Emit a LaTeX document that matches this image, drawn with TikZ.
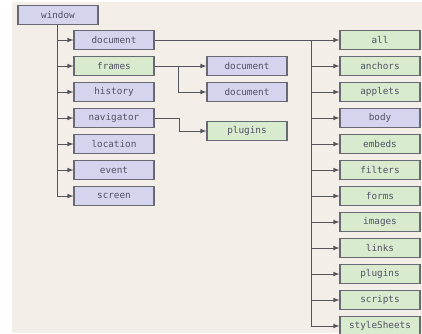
\documentclass[tikz,border=0pt]{standalone}
\usepackage{fontspec}
\setmonofont{DejaVu Sans Mono}
\usepackage{tikz}
\usetikzlibrary{calc}

\definecolor{paper}{RGB}{243,238,231}
\definecolor{lilac}{RGB}{212,212,238}
\definecolor{mint}{RGB}{216,235,206}
\definecolor{edge}{RGB}{105,105,115}
\definecolor{ink}{RGB}{80,80,100}

\tikzset{
	box/.style={draw=edge,line width=0.8pt,minimum width=60pt,minimum height=14pt,
		inner sep=0pt,text=ink,font=\ttfamily\fontsize{7}{8}\selectfont},
	objbox/.style={box,fill=lilac},
	colbox/.style={box,fill=mint},
	link/.style={draw=edge!80!black,line width=0.6pt},
	arr/.style={link,-latex}
}

\begin{document}
\begin{tikzpicture}[x=0.75pt,y=-0.75pt]
		\useasboundingbox (0,0) rectangle (422,333);
		\fill[white] (0,0) rectangle (422,333);
		\fill[paper] (12,2) rectangle (422,333);
		% window and its children
		\node[objbox] (window) at (58,15) {window};
		\coordinate (wtrunk) at (57,24);
		\foreach \name/\txt/\sty [count=\i from 0] in {doc/document/objbox,frames/frames/colbox,history/history/objbox,navigator/navigator/objbox,location/location/objbox,event/event/objbox,screen/screen/objbox}{
			\node[\sty] (\name) at (114,40+26*\i) {\txt};
			\draw[arr] (wtrunk |- \name) -- (\name.west);
		}
		\draw[link] (wtrunk) -- (wtrunk |- screen);
		% middle column
		\node[objbox] (fdocA) at (247,66) {document};
		\node[objbox] (fdocB) at (247,92) {document};
		\node[colbox] (nplug) at (247,131) {plugins};
		\coordinate (fsplit) at (178,66);
		\coordinate (nsplit) at (179,118);
		\draw[arr] (frames.east) -- (fdocA.west);
		\draw[arr] (fsplit) |- (fdocB.west);
		\draw[link] (navigator.east) -- (nsplit);
		\draw[arr] (nsplit) |- (nplug.west);
		% document collections
		\coordinate (dtrunk) at (311,40);
		\foreach \name/\txt/\sty [count=\i from 0] in {all/all/colbox,anchors/anchors/colbox,applets/applets/colbox,body/body/objbox,embeds/embeds/colbox,filters/filters/colbox,forms/forms/colbox,images/images/colbox,links/links/colbox,dplug/plugins/colbox,scripts/scripts/colbox,sheets/styleSheets/colbox}{
			\node[\sty] (\name) at (380,40+26*\i) {\txt};
		}
		\draw[arr] (doc.east) -- (all.west);
		\foreach \name in {anchors,applets,body,embeds,filters,forms,images,links,dplug,scripts,sheets}{
			\draw[arr] (dtrunk |- \name) -- (\name.west);
		}
		\draw[link] (dtrunk) -- (dtrunk |- sheets);
	\end{tikzpicture}
\end{document}
